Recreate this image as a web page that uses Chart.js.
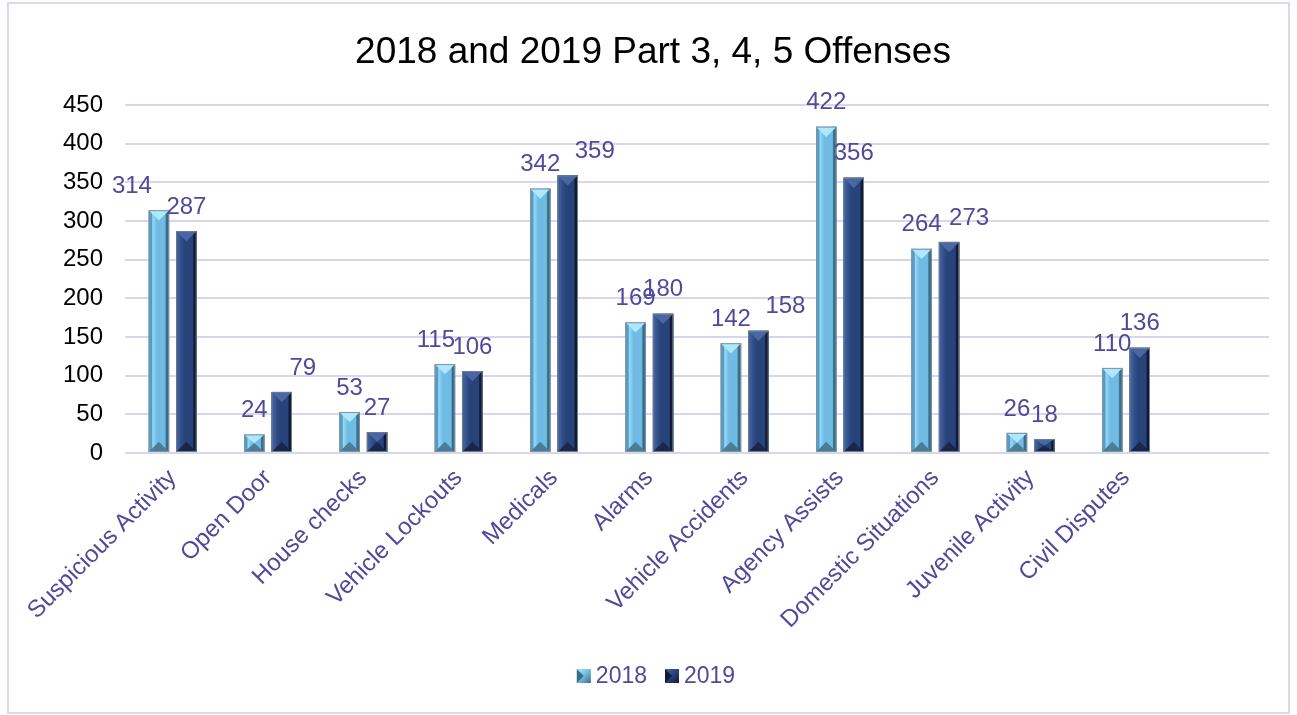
<!DOCTYPE html>
<html>
<head>
<meta charset="utf-8">
<title>2018 and 2019 Part 3, 4, 5 Offenses</title>
<script src="https://cdn.jsdelivr.net/npm/chart.js@4.4.0/dist/chart.umd.min.js"></script>
<style>
  html, body { margin: 0; padding: 0; background: #fff; }
  #wrap { position: relative; width: 1297px; height: 715px; }
</style>
</head>
<body>
<div id="wrap"><canvas id="chart"></canvas></div>
<script>
// data
const chartTitle = '2018 and 2019 Part 3, 4, 5 Offenses';
const categories = ['Suspicious Activity', 'Open Door', 'House checks', 'Vehicle Lockouts', 'Medicals',
  'Alarms', 'Vehicle Accidents', 'Agency Assists', 'Domestic Situations', 'Juvenile Activity', 'Civil Disputes'];
const seriesNames = ['2018', '2019'];
const values2018 = [314, 24, 53, 115, 342, 169, 142, 422, 264, 26, 110];
const values2019 = [287, 79, 27, 106, 359, 180, 158, 356, 273, 18, 136];
const yTicks = [0, 50, 100, 150, 200, 250, 300, 350, 400, 450];

const FONT = "'Liberation Sans', Arial, sans-serif";
const PURPLE = '#4f4a9a';

// bevel colours per series
const palettes = [
  { edge: '#5a9bc2', light: '#94d8f7', face: '#6fbbe3', dark: '#3c6c88', cap: '#aee8fc', foot: '#4a7d98', line: '#7f93a3' },
  { edge: '#3d5c98', light: '#34528d', face: '#27437a', dark: '#111b34', cap: '#4a66a3', foot: '#19284a', line: '#6f7c92' },
];

// which data labels Excel had pushed sideways (px)
const labelNudge = { '0-0': -27, '0-3': -9, '1-1': 21, '1-4': 27, '1-6': 27, '1-8': 20 };

function drawBevelBar(ctx, x, top, bottom, w, pal) {
  const l = x - w / 2, r = x + w / 2, h = bottom - top;
  if (h <= 0) return;
  const g = ctx.createLinearGradient(l, 0, r, 0);
  g.addColorStop(0, pal.edge);
  g.addColorStop(0.14, pal.edge);
  g.addColorStop(0.2, pal.light);
  g.addColorStop(0.4, pal.face);
  g.addColorStop(0.8, pal.face);
  g.addColorStop(0.86, pal.dark);
  g.addColorStop(1, pal.dark);
  ctx.fillStyle = g;
  ctx.fillRect(l, top, w, h);
  const d = Math.min(w / 2, h / 2);
  ctx.fillStyle = pal.cap;
  ctx.beginPath();
  ctx.moveTo(l, top); ctx.lineTo(r, top); ctx.lineTo(x, top + d); ctx.closePath();
  ctx.fill();
  ctx.fillStyle = pal.foot;
  ctx.beginPath();
  ctx.moveTo(l, bottom); ctx.lineTo(r, bottom); ctx.lineTo(x, bottom - d); ctx.closePath();
  ctx.fill();
  ctx.strokeStyle = pal.line;
  ctx.lineWidth = 1;
  ctx.strokeRect(l + 0.5, top + 0.5, w - 1, h - 1);
}

const bevelPlugin = {
  id: 'bevel',
  afterDatasetsDraw(chart) {
    const ctx = chart.ctx;
    ctx.save();
    chart.data.datasets.forEach((ds, di) => {
      const meta = chart.getDatasetMeta(di);
      meta.data.forEach((bar) => {
        const p = bar.getProps(['x', 'y', 'base', 'width'], true);
        if (p.y == null || isNaN(p.y)) return;
        drawBevelBar(ctx, p.x, Math.min(p.y, p.base), Math.max(p.y, p.base), p.width, palettes[di]);
      });
    });
    // value labels
    ctx.font = '24px ' + FONT;
    ctx.fillStyle = PURPLE;
    ctx.textAlign = 'center';
    ctx.textBaseline = 'middle';
    chart.data.datasets.forEach((ds, di) => {
      const meta = chart.getDatasetMeta(di);
      meta.data.forEach((bar, i) => {
        const v = ds.data[i];
        if (v == null) return;
        const p = bar.getProps(['x', 'y'], true);
        const dx = labelNudge[di + '-' + i] || 0;
        ctx.fillText(String(v), p.x + dx, p.y - 24);
      });
    });
    ctx.restore();
  },
};

const framePlugin = {
  id: 'frame',
  beforeDraw(chart) {
    const ctx = chart.ctx;
    ctx.save();
    ctx.fillStyle = '#ffffff';
    ctx.fillRect(0, 0, chart.width, chart.height);
    ctx.strokeStyle = '#d9d8ec';
    ctx.lineWidth = 2;
    ctx.strokeRect(8, 3, chart.width - 16, chart.height - 5);
    ctx.restore();
  },
  afterDraw(chart) {
    const ctx = chart.ctx;
    ctx.save();
    ctx.font = '37px ' + FONT;
    ctx.fillStyle = '#000000';
    ctx.textAlign = 'center';
    ctx.textBaseline = 'alphabetic';
    ctx.fillText(chartTitle, 653, 63);
    ctx.restore();
  },
};

const legendPlugin = {
  id: 'bevelLegend',
  afterDraw(chart) {
    const ctx = chart.ctx;
    ctx.save();
    ctx.font = '23px ' + FONT;
    ctx.textBaseline = 'middle';
    ctx.textAlign = 'left';
    const box = 14, gap = 5, spacing = 18, cy = 676;
    const items = chart.data.datasets.map((ds, di) => ({ text: ds.label, w: ctx.measureText(ds.label).width, pal: palettes[di] }));
    const total = items.reduce((s, it) => s + box + gap + it.w, 0) + spacing * (items.length - 1);
    let x = 656 - total / 2;
    items.forEach((it) => {
      const g = ctx.createLinearGradient(x, cy - box / 2, x + box, cy + box / 2);
      g.addColorStop(0, it.pal.cap);
      g.addColorStop(0.5, it.pal.face);
      g.addColorStop(1, it.pal.dark);
      ctx.fillStyle = g;
      ctx.fillRect(x, cy - box / 2, box, box);
      ctx.fillStyle = it.pal.dark;
      ctx.beginPath();
      ctx.moveTo(x, cy - box / 2); ctx.lineTo(x + box / 2, cy); ctx.lineTo(x, cy + box / 2); ctx.closePath();
      ctx.fill();
      ctx.fillStyle = PURPLE;
      ctx.fillText(it.text, x + box + gap, cy + 1);
      x += box + gap + it.w + spacing;
    });
    ctx.restore();
  },
};

const ctx = document.getElementById('chart');
new Chart(ctx, {
  type: 'bar',
  data: {
    labels: [...categories, ''],
    datasets: [
      { label: seriesNames[0], data: values2018, backgroundColor: palettes[0].face },
      { label: seriesNames[1], data: values2019, backgroundColor: palettes[1].face },
    ],
  },
  options: {
    responsive: true,
    maintainAspectRatio: false,
    animation: false,
    devicePixelRatio: 1,
    categoryPercentage: 0.577,
    barPercentage: 0.745,
    layout: { padding: { left: 10, right: 28, top: 105, bottom: 50 } },
    plugins: {
      legend: { display: false },
      tooltip: { enabled: false },
      title: { display: false },
    },
    scales: {
      x: {
        grid: { display: false, drawTicks: false },
        border: { display: false },
        afterFit(scale) { scale.height = 212; },
        ticks: {
          autoSkip: false,
          minRotation: 45,
          maxRotation: 45,
          padding: 11,
          color: PURPLE,
          font: { family: FONT, size: 24 },
        },
      },
      y: {
        min: 0,
        max: yTicks[yTicks.length - 1],
        afterFit(scale) { scale.width = 115; },
        afterBuildTicks(scale) { scale.ticks = yTicks.map((v) => ({ value: v })); },
        grid: { color: '#d9d5ea', lineWidth: 2, drawTicks: false },
        border: { display: false },
        ticks: {
          padding: 22,
          color: '#000000',
          font: { family: FONT, size: 24 },
        },
      },
    },
  },
  plugins: [framePlugin, bevelPlugin, legendPlugin],
});
</script>
</body>
</html>
